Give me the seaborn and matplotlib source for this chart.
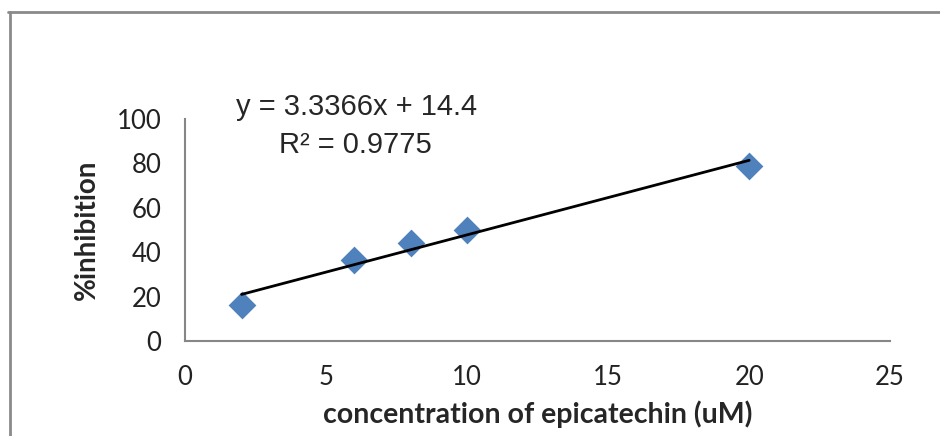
import numpy as np
import pandas as pd
import matplotlib
matplotlib.use("Agg")
import matplotlib.pyplot as plt
import seaborn as sns
from matplotlib.lines import Line2D

sns.set_style("white")
plt.rcParams['font.family'] = ['Lato', 'DejaVu Sans']

# data
conc = [2, 6, 8, 10, 20]
inhibition = [16.2, 36.5, 44.0, 50.0, 79.0]
xticks = [0, 5, 10, 15, 20, 25]
yticks = [0, 20, 40, 60, 80, 100]
eq_text = "y = 3.3366x + 14.4"
r2_text = "R² = 0.9775"

df = pd.DataFrame({"conc": conc, "inhibition": inhibition})

fig = plt.figure(figsize=(9.4, 4.36), dpi=100)
ax = fig.add_axes([0.197, 0.218, 0.75, 0.509])

sns.regplot(data=df, x="conc", y="inhibition", ax=ax, ci=None, truncate=True,
            marker="D",
            scatter_kws={"color": "#4F81BD", "s": 200, "alpha": 1, "linewidths": 0},
            line_kws={"color": "black", "lw": 2})

ax.set_xlim(0, 25)
ax.set_ylim(0, 100)
ax.set_xticks(xticks)
ax.set_yticks(yticks)
ax.set_xlabel("concentration of epicatechin (uM)", fontsize=20.5, fontweight="bold", labelpad=8)
ax.set_ylabel("%inhibition", fontsize=20, fontweight="bold", labelpad=12)
ax.tick_params(axis="both", labelsize=18.5, colors="#868686", direction="out",
               length=7, width=1.5, labelcolor="#222222")
ax.tick_params(axis="x", pad=10)
ax.tick_params(axis="y", pad=10)
for s in ["top", "right"]:
    ax.spines[s].set_visible(False)
for s in ["left", "bottom"]:
    ax.spines[s].set_color("#868686")
    ax.spines[s].set_linewidth(1.5)

ax.text(6.06, 105.4, eq_text, fontsize=21, family="Liberation Sans",
        ha="center", va="center", clip_on=False)
ax.text(6.03, 88.3, r2_text, fontsize=21, family="Liberation Sans",
        ha="center", va="center")

# outer chart frame (only top and left edges visible)
fig.add_artist(Line2D([0.009, 1.0], [0.972, 0.972], transform=fig.transFigure,
                      color="#8a8a8a", lw=2))
fig.add_artist(Line2D([0.011, 0.011], [0.0, 0.972], transform=fig.transFigure,
                      color="#8a8a8a", lw=2))

fig.savefig("out.png", dpi=100)
